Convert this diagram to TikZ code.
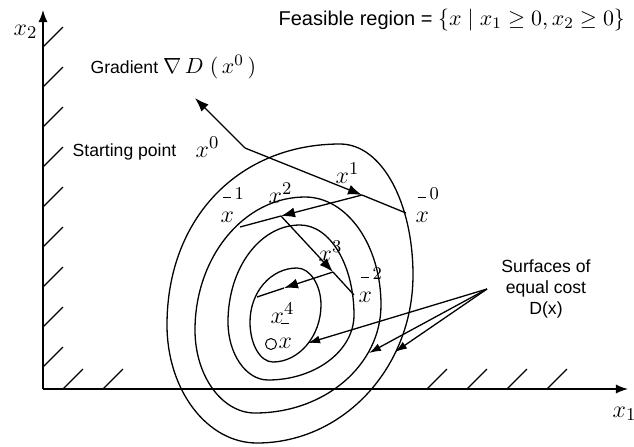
\documentclass[tikz,border=0pt]{standalone}
\usepackage{fontspec}
\setmainfont{Liberation Sans}
\usetikzlibrary{arrows.meta}

% x with a raised bar and a superscript
\newcommand{\xbar}[1]{$x$\kern-0.46em\raisebox{0.95em}{\rule{0.32em}{0.5pt}}\kern0.16em\raisebox{0.9em}{$\scriptstyle #1$}}

\begin{document}
\begin{tikzpicture}[x=0.5pt, y=-0.5pt, line width=0.65pt,
    axis/.style={-{Latex[length=6pt,width=4.5pt]}},
    steparrow/.style={-{Latex[length=7pt,width=5pt]}},
    costarrow/.style={-{Latex[length=6pt,width=4pt]}},
    lbl/.style={inner sep=0pt, anchor=base west, font=\fontsize{12.5}{14}\selectfont},
    txt/.style={inner sep=0pt, font=\fontsize{8.8}{10.3}\selectfont}]
  \useasboundingbox (0,0) rectangle (634,446);

  % axes and hatching
  \coordinate (O) at (43,389);
  \coordinate (x1end) at (628,389);
  \coordinate (x2end) at (43,10);
  \draw[axis] (O) -- (x1end);
  \draw[axis] (O) -- (x2end);
  \foreach \y in {47,87,...,367}
    \draw (43,\y) -- ++(20,-20);
  \foreach \x in {63,103,427,467,507,547}
    \draw (\x,389) -- ++(20,-20);
  \node[lbl] (ax2) at (13,35) {$x_2$};
  \node[lbl] (ax1) at (612,417) {$x_1$};

  % surfaces of equal cost
  \draw (340,144) .. controls +(42,0) and +(0,-72) .. (413,275)
        .. controls +(0,93) and +(86,0) .. (257,443)
        .. controls +(-50,0) and +(0,65) .. (167,325)
        .. controls +(0,-108) and +(-100,0) .. (340,144);
  \draw (305,197) .. controls +(42,0) and +(0,-60) .. (381,305)
        .. controls +(0,60) and +(70,0) .. (255,413)
        .. controls +(-33,0) and +(0,46) .. (195,330)
        .. controls +(0,-73) and +(-61,0) .. (305,197);
  \draw (300,225) .. controls +(30,0) and +(0,-50) .. (354,315)
        .. controls +(0,36) and +(47,0) .. (268,380)
        .. controls +(-22,0) and +(0,32) .. (228,322)
        .. controls +(0,-54) and +(-40,0) .. (300,225);
  \draw (297,268) .. controls +(13,0) and +(0,-20) .. (321,305)
        .. controls +(0,31) and +(26,0) .. (273,362)
        .. controls +(-13,0) and +(0,22) .. (250,322)
        .. controls +(0,-30) and +(-26,0) .. (297,268);

  % iteration points
  \coordinate (x0) at (245,148);
  \coordinate (grad) at (195,98);
  \coordinate (x1) at (362,195);
  \coordinate (xb0) at (406,213);
  \coordinate (x2) at (281,216);
  \coordinate (xb1) at (240,227);
  \coordinate (x3) at (333,272);
  \coordinate (xb2) at (354,295);
  \coordinate (x4) at (284,288);
  \coordinate (xb3) at (257,297);

  \draw[steparrow] (x0) -- (grad);
  \draw[steparrow] (x0) -- (x1);
  \draw (x1) -- (xb0);
  \draw[steparrow] (x1) -- (x2);
  \draw (x2) -- (xb1);
  \draw[steparrow] (x2) -- (x3);
  \draw (x3) -- (xb2);
  \draw[steparrow] (x3) -- (x4);
  \draw (x4) -- (xb3);

  \node[lbl] (lx0) at (195,157) {$x^{0}$};
  \node[lbl] (lx1) at (335,183) {$x^{1}$};
  \node[lbl] (lx2) at (268,203) {$x^{2}$};
  \node[lbl] (lx3) at (318,261) {$x^{3}$};
  \node[lbl] (lx4) at (270,323) {$x^{4}$};
  \node[lbl] (lxb0) at (415,222) {\xbar{0}};
  \node[lbl] (lxb1) at (220,222) {\xbar{1}};
  \node[lbl] (lxb2) at (358,302) {\xbar{2}};
  \node[lbl] (lxopt) at (278,348) {\xbar{}};
  \node[draw, circle, inner sep=0pt, minimum size=5.5pt, line width=0.5pt] (xopt) at (271,344) {};

  % texts
  \node[txt, anchor=base west] (start) at (72,156) {Starting point};
  \node[txt, anchor=base west] (gradlbl) at (90,73)
    {Gradient \fontsize{11}{12}\selectfont$\nabla\,D\;(\,x^{0}\,)$};
  \node[anchor=base west, inner sep=0pt, font=\fontsize{10}{12}\selectfont] (feas) at (278,25)
    {Feasible region = \fontsize{11}{13}\selectfont$\{x\mid x_1\geq 0, x_2\geq 0\}$};

  \node[txt, align=center] (cost) at (546,289) {Surfaces of\\equal cost\\D(x)};
  \coordinate (costfrom) at (487,289);
  \coordinate (s4) at (308,343);
  \coordinate (s2) at (369,353);
  \coordinate (s1) at (395,352);
  \draw[costarrow] (costfrom) -- (s4);
  \draw[costarrow] (costfrom) -- (s2);
  \draw[costarrow] (costfrom) -- (s1);
\end{tikzpicture}
\end{document}
